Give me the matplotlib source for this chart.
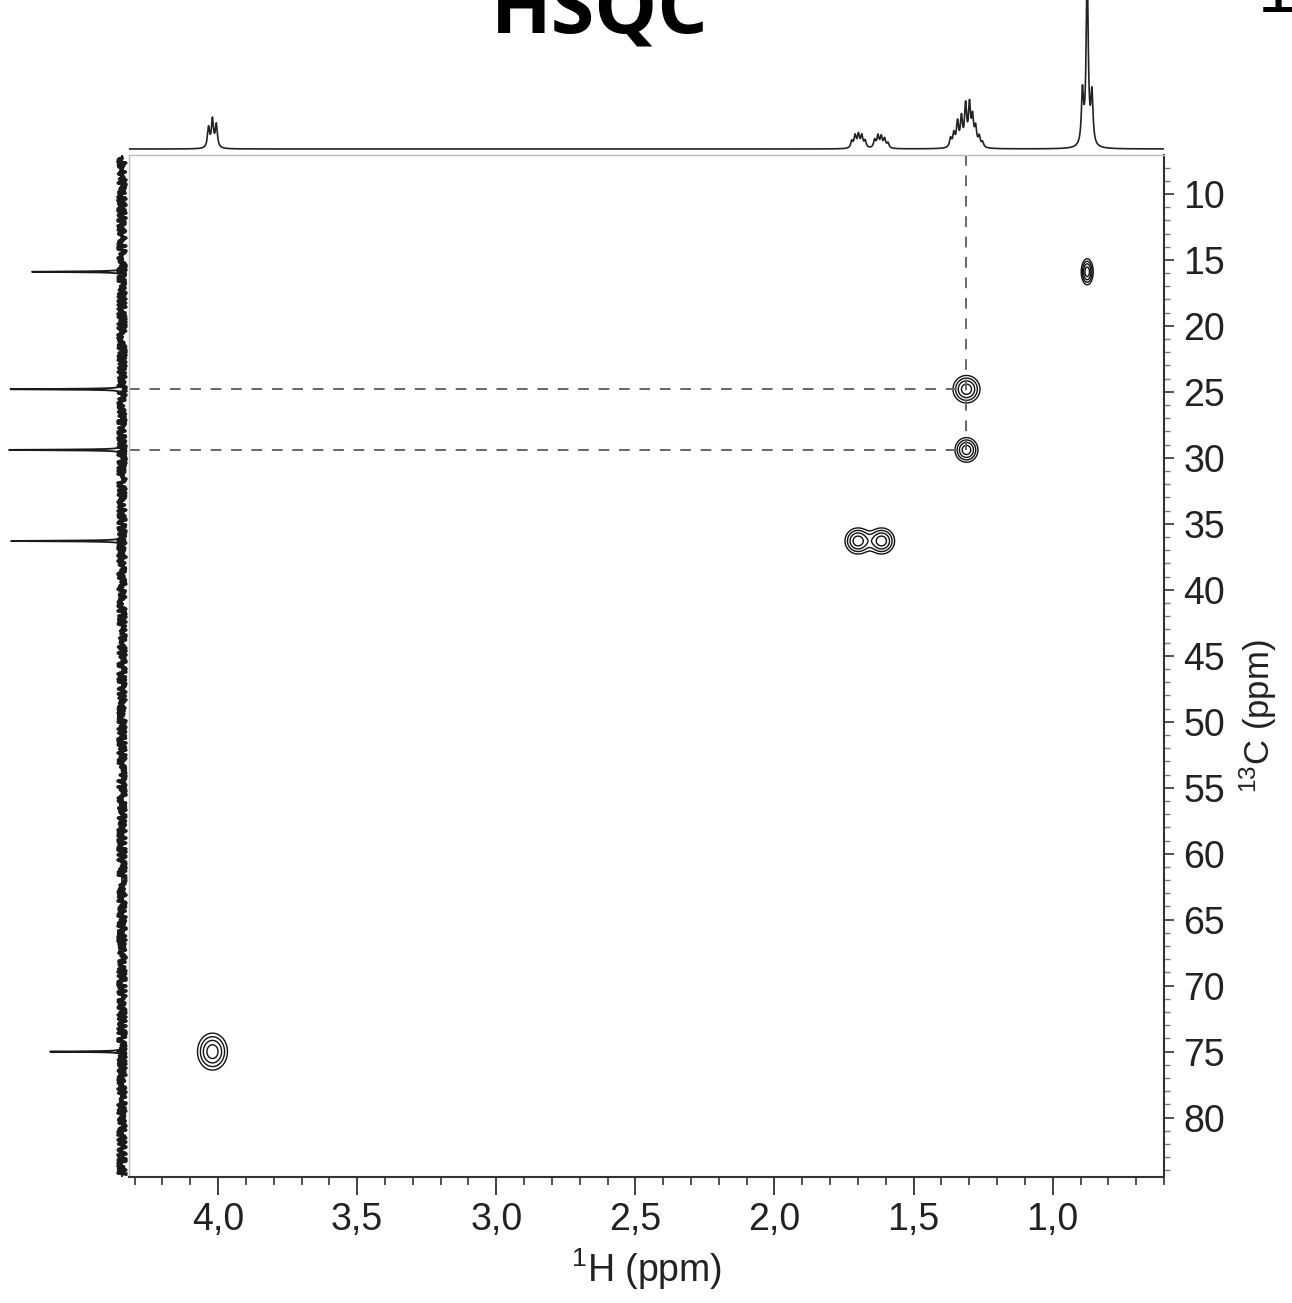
import numpy as np
import matplotlib.pyplot as plt
from matplotlib.ticker import MultipleLocator, FuncFormatter

plt.rcParams['font.family'] = ['Liberation Sans', 'DejaVu Sans']
plt.rcParams['mathtext.fontset'] = 'custom'
plt.rcParams['mathtext.rm'] = 'Liberation Sans'
plt.rcParams['mathtext.it'] = 'Liberation Sans:italic'

# HSQC cross peaks: 1H shift, 13C shift (ppm) and line widths (ppm)
hsqc_h = [0.876, 1.310, 1.310, 1.700, 1.615, 4.020]
hsqc_c = [15.9, 24.8, 29.4, 36.3, 36.3, 75.0]
hsqc_wh = [0.012, 0.027, 0.023, 0.026, 0.026, 0.030]
hsqc_wc = [0.55, 0.58, 0.52, 0.55, 0.55, 0.78]
levels = [0.2, 0.35, 0.55, 0.8]

# 1H projection: multiplet lines (ppm) and intensities
h1_shift = [4.034, 4.020, 4.006,
            1.722, 1.710, 1.698, 1.686, 1.674,
            1.640, 1.628, 1.616, 1.604, 1.592,
            1.367, 1.355, 1.342, 1.328, 1.313, 1.299, 1.288, 1.277, 1.264, 1.252,
            0.893, 0.876, 0.859]
h1_int = [20, 28, 23,
          7, 12, 13, 12, 7,
          8, 12, 11, 9, 5,
          9, 13, 24, 28, 40, 40, 27, 18, 10, 5,
          52, 170, 50]

# 13C projection
c13_shift = [15.9, 24.8, 29.4, 36.3, 75.0]
c13_int = [90, 112, 114, 111, 72]

# guide lines through the 1.31 ppm proton
guide_h = 1.310
guide_c = [24.8, 29.4]

xlim = (4.32, 0.60)
ylim = (84.5, 7.05)

W, H = 1292, 1303
fig = plt.figure(figsize=(W / 100, H / 100), dpi=100)

def box(l, t, r, b):
    return [l / W, 1 - b / H, (r - l) / W, (b - t) / H]

ax = fig.add_axes(box(129, 155, 1164, 1177))
axt = fig.add_axes(box(129, 0, 1164, 151))
axl = fig.add_axes(box(0, 155, 129, 1177))

# contour map
x = np.linspace(xlim[1], xlim[0], 1900)
y = np.linspace(ylim[1], ylim[0], 900)
X, Y = np.meshgrid(x, y)
Z = np.zeros_like(X)
for h, c, wh, wc in zip(hsqc_h, hsqc_c, hsqc_wh, hsqc_wc):
    Z += np.exp(-((X - h) ** 2) / (2 * wh ** 2) - ((Y - c) ** 2) / (2 * wc ** 2))
ax.contour(X, Y, Z, levels=levels, colors='#111111', linewidths=1.0)

ax.plot([guide_h, guide_h], [ylim[1], max(guide_c)], color='#666666',
        lw=1.4, dashes=(5.5, 5))
for c in guide_c:
    ax.plot([xlim[0], guide_h], [c, c], color='#666666', lw=1.4, dashes=(5.5, 5))

ax.set_xlim(xlim)
ax.set_ylim(ylim)
for s in ['left', 'top']:
    ax.spines[s].set_color('#bbbbbb')
    ax.spines[s].set_linewidth(1.0)
for s in ['right', 'bottom']:
    ax.spines[s].set_color('#333333')
    ax.spines[s].set_linewidth(1.5)

ax.xaxis.set_major_locator(MultipleLocator(0.5))
ax.xaxis.set_minor_locator(MultipleLocator(0.1))
ax.xaxis.set_major_formatter(FuncFormatter(lambda v, p: f"{v:.1f}".replace('.', ',')))
ax.yaxis.tick_right()
ax.yaxis.set_major_locator(MultipleLocator(5))
ax.yaxis.set_minor_locator(MultipleLocator(1))
ax.tick_params(axis='x', which='major', length=13, width=1.3, pad=5,
               labelsize=27, color='#333333', labelcolor='#222222')
ax.tick_params(axis='x', which='minor', length=6, width=1.2, color='#333333')
ax.tick_params(axis='y', which='major', length=7, width=1.2, pad=7,
               labelsize=27, color='#333333', labelcolor='#222222',
               left=False, right=True, labelleft=False, labelright=True)
ax.tick_params(axis='y', which='minor', length=4, width=1.0, color='#777777',
               left=False, right=True)
ax.set_xlabel('$^{1}$H (ppm)', fontsize=27, color='#222222', labelpad=6)
fig.text(1258 / W, 1 - 716 / H, '$^{13}$C (ppm)', rotation=90, fontsize=25,
         color='#222222', ha='center', va='center')

# 1H trace on top
xs = np.linspace(xlim[1], xlim[0], 9000)
spec = np.zeros_like(xs)
w1 = 0.0045
for s, i in zip(h1_shift, h1_int):
    spec += i * w1 ** 2 / ((xs - s) ** 2 + w1 ** 2)
axt.plot(xs, spec, color='#222222', lw=1.2)
axt.set_xlim(xlim)
axt.set_ylim(-2, 149)
axt.axis('off')

# 13C trace on the left, with noisy baseline
ys = np.linspace(ylim[1], ylim[0], 8000)
cspec = np.zeros_like(ys)
w13 = 0.03
for s, i in zip(c13_shift, c13_int):
    cspec += i * w13 ** 2 / ((ys - s) ** 2 + w13 ** 2)
noise, = axl.plot([0, 0], [ylim[1] + 0.2, ylim[0] - 0.2], color='#1a1a1a', lw=2.6)
noise.set_sketch_params(scale=4, length=2.5, randomness=3)
axl.plot(cspec, ys, color='#1a1a1a', lw=1.3)
axl.set_xlim(122, -7)
axl.set_ylim(ylim)
axl.axis('off')

fig.text(600 / W, 1 - 33 / H, 'HSQC', fontsize=57, fontweight='bold',
         family='Open Sans', ha='center', va='baseline', color='black')
fig.text(1277 / W, 1 - 12 / H, '1', fontsize=50, ha='center', va='baseline',
         color='black')

fig.savefig('out.png', dpi=100)
